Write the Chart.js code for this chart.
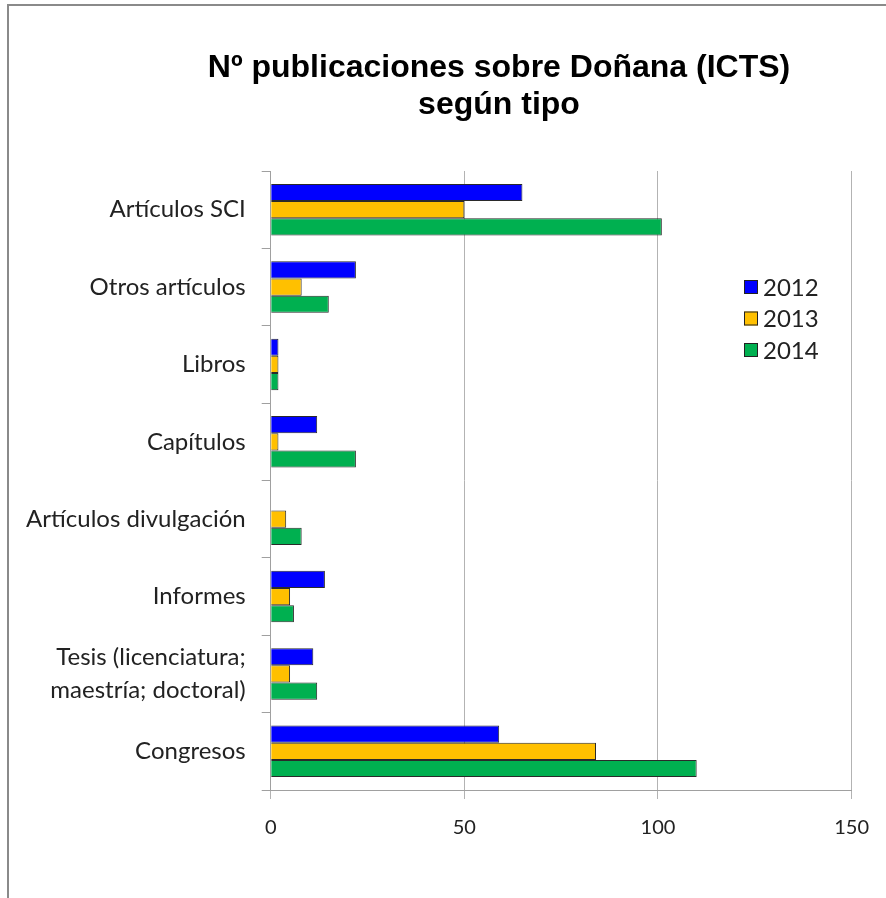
<!DOCTYPE html>
<html>
<head>
<meta charset="utf-8">
<script src="https://cdn.jsdelivr.net/npm/chart.js@4"></script>
<style>
  body { margin: 0; background: #fff; overflow: hidden; }
  #frame { position: absolute; left: 7px; top: 4px; width: 1000px; height: 1000px;
           border-left: 2px solid #8a8a8a; border-top: 2px solid #8a8a8a; }
  #chart { position: absolute; left: 0; top: 0; }
</style>
</head>
<body>
<div id="frame"><canvas id="chart" width="877" height="892"></canvas></div>
<script>
const titleLines = ['Nº publicaciones sobre Doñana (ICTS)', 'según tipo'];
const categories = ['Artículos SCI', 'Otros artículos', 'Libros', 'Capítulos', 'Artículos divulgación',
                    'Informes', ['Tesis (licenciatura;', 'maestría; doctoral)'], 'Congresos'];
const years = ['2012', '2013', '2014'];
const values2012 = [65, 22, 2, 12, 0, 14, 11, 59];
const values2013 = [50, 8, 2, 2, 4, 5, 5, 84];
const values2014 = [101, 15, 2, 22, 8, 6, 12, 110];
const xTicks = [0, 50, 100, 150];
const colors = ['#0000ff', '#ffc000', '#00b050'];

const labelFont = "Lato, 'Open Sans', sans-serif";

// title sits left of the plot centre in the original, so it is drawn by hand
const titlePlugin = {
    id: 'offsetTitle',
    afterDraw(chart) {
        const ctx = chart.ctx;
        ctx.save();
        ctx.font = "bold 32px 'Liberation Sans', Arial, sans-serif";
        ctx.fillStyle = '#000';
        ctx.textAlign = 'center';
        ctx.textBaseline = 'middle';
        titleLines.forEach(function(line, i) {
            ctx.fillText(line, 490, 62 + i * 36.8);
        });
        ctx.restore();
    }
};

// legend drawn inside the plot area, like the original
const keyPlugin = {
    id: 'insideKey',
    afterDraw(chart) {
        const ctx = chart.ctx;
        ctx.save();
        ctx.font = '24px ' + labelFont;
        ctx.textBaseline = 'middle';
        chart.data.datasets.forEach(function(ds, i) {
            const y = 281 + i * 31.5;
            ctx.fillStyle = ds.backgroundColor;
            ctx.fillRect(735, y - 7, 14, 14);
            ctx.strokeStyle = '#222';
            ctx.lineWidth = 1;
            ctx.strokeRect(735.5, y - 6.5, 13, 13);
            ctx.fillStyle = '#222';
            ctx.fillText(ds.label, 754, y + 1);
        });
        ctx.restore();
    }
};

new Chart(document.getElementById('chart'), {
    type: 'bar',
    data: {
        labels: categories,
        datasets: [
            { label: years[0], data: values2012, backgroundColor: colors[0] },
            { label: years[1], data: values2013, backgroundColor: colors[1] },
            { label: years[2], data: values2014, backgroundColor: colors[2] }
        ].map(function(d) {
            return Object.assign(d, { borderColor: '#2a2a2a', borderWidth: 1,
                                      barPercentage: 1.0, categoryPercentage: 0.667 });
        })
    },
    options: {
        indexAxis: 'y',
        responsive: false,
        animation: false,
        layout: { padding: { left: 0, right: 34, top: 165, bottom: 41 } },
        plugins: {
            legend: { display: false },
            tooltip: { enabled: false },
            title: { display: false }
        },
        scales: {
            x: {
                min: 0, max: 150,
                afterBuildTicks(scale) { scale.ticks = xTicks.map(v => ({ value: v })); },
                grid: { color: '#b3b3b3', lineWidth: 1, tickLength: 9, drawTicks: true },
                border: { color: '#a0a0a0', width: 1 },
                ticks: { color: '#222', padding: 17, font: { family: labelFont, size: 20 } }
            },
            y: {
                afterFit(scale) { scale.width = 261.7; },
                grid: { offset: true, drawOnChartArea: false, tickLength: 9, color: '#a0a0a0' },
                border: { color: '#a0a0a0', width: 1 },
                ticks: { color: '#222', padding: 16, font: { family: labelFont, size: 24, lineHeight: 1.4 } }
            }
        }
    },
    plugins: [titlePlugin, keyPlugin]
});
</script>
</body>
</html>
